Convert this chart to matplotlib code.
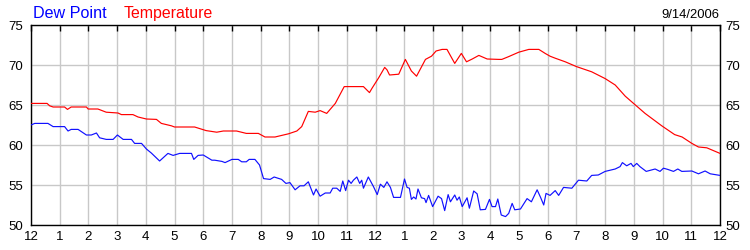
import matplotlib
matplotlib.use("Agg")
import matplotlib.pyplot as plt

plt.rcParams['font.family'] = ['Liberation Sans', 'DejaVu Sans']

# Hours since midnight, 9/14/2006
temp_hours = [0.0, 0.56, 0.65, 0.77, 1.17, 1.27, 1.40, 1.93, 1.99, 2.33, 2.62, 3.03, 3.15, 3.55,
              3.73, 4.02, 4.37, 4.54, 4.89, 5.0, 5.7, 6.1, 6.47, 6.7, 7.16, 7.5, 7.92, 8.15, 8.5,
              8.97, 9.26, 9.43, 9.66, 9.9, 10.07, 10.3, 10.6, 10.91, 11.35, 11.58, 11.79, 11.88,
              12.11, 12.32, 12.4, 12.49, 12.81, 13.04, 13.25, 13.43, 13.74, 13.95, 14.11, 14.32,
              14.49, 14.76, 14.99, 15.17, 15.37, 15.6, 15.89, 16.3, 16.4, 16.64, 16.99, 17.34,
              17.69, 17.91, 18.08, 18.26, 18.61, 19.0, 19.53, 20.0, 20.35, 20.7, 21.02, 21.39,
              21.97, 22.42, 22.68, 23.02, 23.25, 23.54, 24.0]
temperature = [65.2, 65.2, 64.9, 64.75, 64.75, 64.45, 64.75, 64.75, 64.5, 64.5, 64.1, 64.0, 63.8, 63.8,
               63.5, 63.25, 63.2, 62.7, 62.4, 62.25, 62.25, 61.8, 61.6, 61.75, 61.75, 61.45, 61.45,
               61.0, 61.0, 61.4, 61.75, 62.3, 64.2, 64.1, 64.3, 63.95, 65.2, 67.3, 67.3, 67.3, 66.55,
               67.1, 68.4, 69.7, 69.4, 68.75, 68.85, 70.7, 69.25, 68.6, 70.7, 71.1, 71.75, 71.95,
               71.95, 70.2, 71.45, 70.4, 70.75, 71.2, 70.75, 70.7, 70.7, 71.05, 71.6, 71.95,
               71.95, 71.45, 71.1, 70.85, 70.4, 69.8, 69.15, 68.3, 67.5, 66.1, 65.1, 63.95,
               62.4, 61.3, 61.0, 60.2, 59.75, 59.65, 58.95]

dew_hours = [0.0, 0.13, 0.59, 0.77, 1.17, 1.29, 1.40, 1.64, 1.93, 2.1, 2.28, 2.39, 2.62, 2.86, 3.01,
             3.21, 3.5, 3.61, 3.85, 4.02, 4.19, 4.48, 4.77, 4.95, 5.18, 5.59, 5.67, 5.82, 6.0,
             6.3, 6.4, 6.65, 6.76, 7.0, 7.22, 7.34, 7.5, 7.6, 7.8, 7.96, 8.1, 8.33, 8.47, 8.73,
             8.88, 9.02, 9.2, 9.37, 9.51, 9.66, 9.84, 9.93, 10.07, 10.25, 10.42, 10.51, 10.65,
             10.77, 10.86, 10.96, 11.06, 11.15, 11.23, 11.35, 11.45, 11.52, 11.58, 11.75, 11.93,
             12.06, 12.17, 12.29, 12.4, 12.52, 12.63, 12.87, 13.01, 13.1, 13.18, 13.25, 13.33,
             13.41, 13.48, 13.6, 13.71, 13.76, 13.85, 13.99, 14.18, 14.3, 14.41, 14.53, 14.61,
             14.76, 14.84, 14.92, 15.02, 15.19, 15.27, 15.42, 15.54, 15.65, 15.83, 15.97, 16.06,
             16.18, 16.26, 16.38, 16.53, 16.64, 16.76, 16.85, 17.05, 17.28, 17.43, 17.63, 17.75,
             17.86, 17.94, 18.08, 18.26, 18.38, 18.55, 18.84, 19.07, 19.36, 19.53, 19.76, 20.0,
             20.35, 20.52, 20.6, 20.75, 20.9, 20.98, 21.1, 21.21, 21.43, 21.74, 21.91, 22.03,
             22.18, 22.38, 22.53, 22.67, 23.02, 23.25, 23.48, 23.66, 24.0]
dew_point = [62.5, 62.7, 62.7, 62.3, 62.3, 61.75, 61.95, 61.95, 61.25, 61.25, 61.5, 60.9, 60.7, 60.7,
             61.25, 60.7, 60.7, 60.2, 60.2, 59.5, 59.0, 58.0, 58.95, 58.7, 58.95, 58.95, 58.2,
             58.7, 58.75, 58.1, 58.1, 57.95, 57.8, 58.2, 58.2, 57.9, 57.9, 58.2, 58.2, 57.5,
             55.8, 55.7, 56.0, 55.7, 55.2, 55.3, 54.4, 54.9, 54.9, 55.4, 53.75, 54.5, 53.6,
             54.0, 54.0, 54.6, 54.6, 54.2, 55.5, 54.3, 55.6, 55.2, 55.6, 56.0, 55.2, 55.6,
             54.6, 56.0, 54.8, 53.8, 55.1, 54.7, 55.4, 54.7, 53.45, 53.45, 55.75, 54.7, 54.6,
             53.2, 53.5, 53.25, 54.5, 53.4, 53.3, 52.8, 53.7, 52.3, 53.6, 53.3, 51.8, 53.8,
             52.9, 53.75, 53.1, 53.5, 52.3, 53.4, 52.1, 54.25, 53.9, 51.9, 51.95, 53.2, 52.3,
             52.3, 53.25, 51.25, 51.05, 51.45, 52.7, 51.9, 52.0, 53.3, 52.9, 54.4, 53.45,
             52.5, 53.95, 53.7, 54.3, 53.7, 54.7, 54.6, 55.6, 55.5, 56.2, 56.25, 56.7,
             57.0, 57.3, 57.8, 57.4, 57.7, 57.3, 57.7, 57.3, 56.7, 57.0, 56.7, 57.1,
             56.95, 56.7, 57.0, 56.7, 56.75, 56.4, 56.75, 56.4, 56.2]

hour_ticks = list(range(0, 25))
hour_labels = ['12'] + [str(h) for h in range(1, 12)] + ['12'] + [str(h) for h in range(1, 12)] + ['12']
y_ticks = [50, 55, 60, 65, 70, 75]

fig = plt.figure(figsize=(7.5, 2.5), dpi=100)
ax = fig.add_axes([31/750, 25/250, 689/750, 200/250])

ax.plot(temp_hours, temperature, color='#ff0000', lw=0.85, zorder=3)
ax.plot(dew_hours, dew_point, color='#1010ff', lw=0.85, zorder=3)

ax.set_xlim(0, 24)
ax.set_ylim(50, 75)
ax.set_xticks(hour_ticks)
ax.set_xticklabels(hour_labels)
ax.set_yticks(y_ticks)
ax.grid(True, color='#c8c8c8', lw=1.0, zorder=0)
ax.set_axisbelow(True)
ax.tick_params(axis='x', direction='in', length=4, top=True, bottom=False, labelsize=9.5, pad=4.5, width=1)
ax.tick_params(axis='y', direction='in', length=0, left=True, right=False,
               labelleft=True, labelright=False, labelsize=9.5, pad=5.5)
for s in ax.spines.values():
    s.set_color('black')
    s.set_linewidth(1.0)

axr = ax.twinx()
axr.set_ylim(50, 75)
axr.set_yticks(y_ticks)
axr.tick_params(axis='y', direction='in', length=0, labelsize=9.5, pad=4)
for s in axr.spines.values():
    s.set_visible(False)

fig.text(33/750, 1 - 18/250, 'Dew Point', color='#0000ff', fontsize=11.6, ha='left', va='baseline')
fig.text(124/750, 1 - 18/250, 'Temperature', color='#ff0000', fontsize=11.4, ha='left', va='baseline')
fig.text(719/750, 1 - 17.5/250, '9/14/2006', color='black', fontsize=9.4, ha='right', va='baseline')

fig.savefig('out.png', dpi=100)
